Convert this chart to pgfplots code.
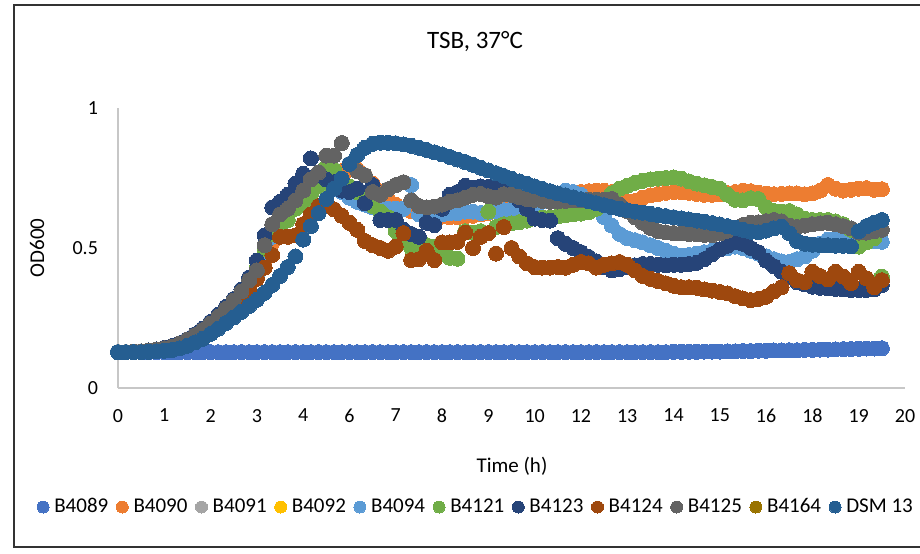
\documentclass[border=0pt]{standalone}
\usepackage{fontspec}
\setmainfont{Carlito}
\usepackage{pgfplots}
\usepackage{pgfplotstable}
\pgfplotsset{compat=1.18}
\definecolor{c4089}{HTML}{4472C4}
\definecolor{c4090}{HTML}{ED7D31}
\definecolor{c4091}{HTML}{A5A5A5}
\definecolor{c4092}{HTML}{FFC000}
\definecolor{c4094}{HTML}{5B9BD5}
\definecolor{c4121}{HTML}{70AD47}
\definecolor{c4123}{HTML}{264478}
\definecolor{c4124}{HTML}{9E480E}
\definecolor{c4125}{HTML}{636363}
\definecolor{c4164}{HTML}{997300}
\definecolor{cdsm}{HTML}{255E91}
% columns: a=B4089 b=B4090 c=B4094 d=B4121 e=B4123 f=B4124 g=B4125 h=DSM 13
\pgfplotstableread{
t a b c d e f g h
0.0 .128 .128 .128 .128 .128 .128 .128 .128
0.2 .128 .128 .128 .128 .128 .128 .128 .128
0.4 .128 .129 .129 .129 .129 .129 .129 .128
0.6 .128 .130 .130 .130 .131 .130 .131 .128
0.8 .128 .132 .132 .132 .134 .133 .133 .129
1.0 .128 .135 .135 .136 .138 .137 .137 .131
1.2 .128 .139 .139 .140 .143 .142 .142 .133
1.4 .128 .144 .144 .146 .150 .148 .148 .136
1.6 .128 .152 .152 .154 .160 .158 .158 .142
1.8 .128 .163 .163 .166 .174 .171 .172 .151
2.0 .128 .177 .177 .182 .192 .187 .189 .163
2.2 .128 .192 .192 .198 .212 .205 .207 .176
2.4 .128 .212 .212 .220 .236 .226 .230 .193
2.6 .128 .234 .234 .244 .262 .250 .255 .212
2.8 .128 .260 .258 .270 .290 .278 .283 .232
3.0 .128 .288 .285 .300 .318 .305 .312 .252
3.2 .128 .318 .315 .332 .352 .330 .345 .272
3.4 .128 .352 .350 .372 .395 .350 .385 .293
3.6 .128 .395 .400 .428 .455 .390 .420 .315
3.8 .128 .450 .460 .495 .545 .430 .510 .340
4.0 .128 .520 .540 .550 .645 .475 .585 .368
4.2 .128 .580 .600 .575 .665 .540 .620 .400
4.4 .128 .630 .630 .600 .690 .540 .640 .432
4.6 .128 .670 .660 .640 .730 .545 .670 .470
4.8 .128 .700 .690 .660 .765 .585 .705 .530
5.0 .128 .725 .710 .690 .820 .620 .745 .578
5.2 .128 .745 .730 .720 .760 .650 .770 .625
5.4 .128 .760 .740 .790 .745 .650 .830 .675
5.6 .128 .770 .720 .780 .735 .638 .830 .712
5.8 .128 .775 .700 .740 .705 .615 .875 .748
6.0 .128 .780 .680 .720 .700 .590 .800 .800
6.2 .128 .780 .665 .700 .712 .565 .775 .832
6.4 .128 .760 .655 .680 .660 .525 .760 .858
6.6 .128 .730 .645 .650 .725 .510 .700 .872
6.8 .128 .700 .640 .630 .600 .500 .690 .876
7.0 .128 .675 .640 .610 .600 .490 .710 .876
7.2 .128 .655 .640 .560 .600 .505 .725 .874
7.4 .128 .640 .640 .525 .565 .553 .735 .870
7.6 .128 .632 .725 .500 .550 .457 .670 .865
7.8 .128 .625 .620 .495 .540 .460 .650 .858
8.0 .128 .620 .615 .510 .590 .490 .645 .850
8.2 .128 .615 .615 .505 .582 .457 .648 .842
8.4 .128 .612 .620 .480 .640 .520 .655 .834
8.6 .128 .610 .625 .465 .690 .520 .665 .825
8.8 .128 .610 .625 .462 .700 .522 .670 .816
9.0 .128 .612 .630 .560 .722 .555 .680 .807
9.2 .128 .615 .630 .555 .716 .500 .690 .797
9.4 .128 .620 .625 .560 .720 .540 .693 .787
9.6 .128 .625 .628 .630 .718 .553 .685 .777
9.8 .128 .632 .632 .575 .720 .480 .680 .767
10.0 .128 .640 .635 .585 .708 .575 .692 .757
10.2 .128 .648 .638 .588 .698 .500 .690 .747
10.4 .128 .655 .642 .592 .670 .470 .682 .738
10.6 .128 .662 .648 .598 .640 .445 .675 .729
10.8 .128 .668 .655 .605 .605 .432 .672 .720
11.0 .128 .674 .665 .608 .600 .430 .668 .711
11.2 .128 .680 .675 .610 .598 .430 .665 .703
11.4 .128 .686 .690 .613 .535 .432 .666 .695
11.6 .128 .692 .705 .617 .515 .430 .668 .688
11.8 .128 .697 .700 .620 .500 .440 .670 .681
12.0 .128 .700 .690 .623 .485 .450 .670 .674
12.2 .128 .703 .670 .628 .468 .445 .672 .667
12.4 .128 .705 .640 .640 .452 .430 .672 .660
12.6 .128 .704 .610 .665 .432 .440 .672 .653
12.8 .128 .700 .580 .695 .420 .445 .675 .646
13.0 .128 .682 .550 .712 .425 .450 .655 .640
13.2 .128 .666 .535 .722 .432 .440 .632 .635
13.4 .128 .668 .528 .733 .438 .420 .610 .630
13.6 .128 .680 .520 .740 .443 .400 .590 .626
13.8 .128 .688 .510 .745 .443 .390 .572 .622
14.0 .128 .693 .500 .748 .440 .382 .560 .618
14.2 .128 .697 .490 .750 .438 .374 .556 .614
14.4 .129 .700 .480 .752 .440 .365 .553 .610
14.6 .129 .700 .472 .748 .440 .360 .552 .606
14.8 .129 .697 .475 .738 .443 .360 .550 .602
15.0 .129 .693 .480 .730 .447 .358 .549 .598
15.2 .130 .690 .485 .724 .460 .352 .547 .594
15.4 .130 .690 .490 .718 .478 .348 .546 .589
15.6 .130 .692 .495 .712 .495 .343 .552 .584
15.8 .131 .696 .500 .690 .508 .338 .562 .578
16.0 .131 .700 .505 .672 .520 .328 .572 .572
16.2 .132 .705 .500 .670 .515 .320 .582 .565
16.4 .132 .703 .490 .678 .500 .314 .590 .558
16.6 .133 .697 .480 .675 .485 .318 .592 .556
16.8 .133 .694 .470 .645 .455 .326 .596 .562
17.0 .134 .692 .460 .632 .435 .345 .600 .570
17.2 .134 .693 .452 .630 .415 .360 .595 .576
17.4 .135 .695 .450 .632 .395 .410 .580 .553
17.6 .135 .695 .460 .620 .378 .385 .575 .525
17.8 .136 .692 .470 .605 .370 .378 .580 .515
18.0 .136 .695 .490 .600 .362 .415 .585 .512
18.2 .137 .705 .515 .600 .358 .400 .588 .510
18.4 .137 .725 .530 .600 .356 .388 .590 .510
18.6 .138 .712 .535 .595 .354 .415 .585 .508
18.8 .139 .705 .540 .585 .352 .398 .578 .508
19.0 .139 .708 .540 .565 .350 .375 .570 .506
19.2 .140 .712 .535 .505 .350 .415 .555 .560
19.4 .141 .714 .530 .520 .350 .392 .555 .578
19.6 .141 .708 .525 .535 .352 .360 .560 .590
19.8 .142 .710 .522 .398 .368 .385 .565 .600
}\growth
\begin{document}
\begin{tikzpicture}
\path[use as bounding box] (-59pt,-82.5pt) rectangle (401pt,194pt);
\begin{axis}[
  at={(0pt,0pt)}, anchor=south west,
  scale only axis, width=393.5pt, height=140pt,
  xmin=0, xmax=20.4, ymin=0, ymax=1,
  clip=false,
  axis lines=left,
  axis line style={-, draw=black!22, line width=0.8pt},
  major tick length=0pt,
  xtick={0,1.2,2.4,3.6,4.8,6,7.2,8.4,9.6,10.8,12,13.2,14.4,15.6,16.8,18,19.2,20.4},
  xticklabels={0,1,2,3,4,6,7,8,9,10,12,13,14,15,16,18,19,20},
  ytick={0,0.5,1},
  /pgf/number format/assume math mode=true,
  tick label style={font=\fontsize{10}{12}\selectfont, text=black},
  xticklabel style={yshift=-7pt},
  yticklabel style={xshift=-6.5pt},
  every axis plot/.append style={only marks, mark=*, mark size=3.75pt, mark options={line width=0pt}},
  legend columns=11,
  legend image code/.code={\draw[#1, mark size=3pt] plot coordinates {(3pt,0pt)};},
  legend style={at={(0.4536,-0.425)}, anchor=center, draw=none, fill=none,
    inner sep=0pt, outer sep=0pt,
    nodes={inner sep=0pt, font=\fontsize{10.5}{12}\selectfont},
    /tikz/every odd column/.append style={column sep=2.6pt},
    /tikz/every even column/.append style={column sep=4pt}},
]
\addplot[color=c4089] table[x=t,y=a] {\growth};
\addlegendentry{B4089}
\addplot[color=c4090] table[x=t,y=b] {\growth};
\addlegendentry{B4090}
\addlegendimage{only marks, mark=*, color=c4091}
\addlegendentry{B4091}
\addlegendimage{only marks, mark=*, color=c4092}
\addlegendentry{B4092}
\addplot[color=c4094] table[x=t,y=c] {\growth};
\addlegendentry{B4094}
\addplot[color=c4121] table[x=t,y=d] {\growth};
\addlegendentry{B4121}
\addplot[color=c4123] table[x=t,y=e] {\growth};
\addlegendentry{B4123}
\addplot[color=c4124] table[x=t,y=f] {\growth};
\addlegendentry{B4124}
\addplot[color=c4125] table[x=t,y=g] {\growth};
\addlegendentry{B4125}
\addlegendimage{only marks, mark=*, color=c4164}
\addlegendentry{B4164}
\addplot[color=cdsm] table[x=t,y=h] {\growth};
\addlegendentry{DSM 13}
\end{axis}
\draw[line width=1pt, color=black!80] (401pt,191.5pt) -- (-52pt,191.5pt) -- (-52pt,-79.5pt) -- (401pt,-79.5pt);
\node at (178.5pt,173pt) {\fontsize{12.5}{15}\selectfont TSB, 37°C};
\node at (197pt,-39pt) {\fontsize{10.5}{12}\selectfont Time (h)};
\node[rotate=90] at (-40.5pt,70pt) {\fontsize{10.5}{12}\selectfont OD600};
\end{tikzpicture}
\end{document}
